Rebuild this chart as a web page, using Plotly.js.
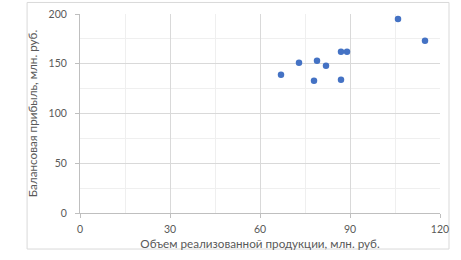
<!DOCTYPE html>
<html><head><meta charset="utf-8">
<script src="https://cdn.plot.ly/plotly-3.0.1.min.js"></script>
<style>body{margin:0;padding:0;background:#fff}#chart{width:461px;height:260px}</style>
</head><body><div id="chart"></div>
<script>
const volume = [67, 73, 78, 79, 82, 87, 89, 87, 106, 115];
const profit = [139, 151, 133, 153, 148, 162, 162, 134, 195, 173];
const xTitle = "Объем реализованной продукции, млн. руб.";
const yTitle = "Балансовая прибыль, млн. руб.";

const font = {family: "Lato, 'Open Sans', sans-serif", size: 10.5, color: "#595959"};
const titleFont = {family: font.family, size: 11.7, color: "#595959"};
const trace = {
  x: volume, y: profit, type: "scatter", mode: "markers",
  marker: {color: "#4472C4", size: 6.5}, hoverinfo: "x+y"
};
const layout = {
  width: 461, height: 260,
  margin: {l: 80, r: 21, t: 14, b: 47},
  paper_bgcolor: "#fff", plot_bgcolor: "#fff",
  showlegend: false, font: font,
  xaxis: {
    range: [0, 120], dtick: 30, tick0: 0, showgrid: true, gridcolor: "#d9d9d9", gridwidth: 1,
    minor: {dtick: 15, showgrid: true, gridcolor: "#efefef", gridwidth: 1},
    zeroline: false, showline: true, linecolor: "#bfbfbf", linewidth: 1,
    ticks: "outside", ticklen: 4, tickcolor: "#bfbfbf", ticklabelstandoff: 2,
    tickfont: font, fixedrange: true,
    title: {text: xTitle, font: titleFont, standoff: 6}
  },
  yaxis: {
    range: [0, 200], dtick: 50, tick0: 0, showgrid: true, gridcolor: "#d9d9d9", gridwidth: 1,
    minor: {dtick: 25, showgrid: true, gridcolor: "#efefef", gridwidth: 1},
    zeroline: false, showline: true, linecolor: "#bfbfbf", linewidth: 1,
    ticks: "outside", ticklen: 4, tickcolor: "#bfbfbf", ticklabelstandoff: 6,
    tickfont: font, fixedrange: true,
    title: {text: yTitle, font: titleFont, standoff: 8}
  },
  shapes: [{
    type: "rect", xref: "paper", yref: "paper",
    x0: -0.147, x1: 1.025, y0: -0.181, y1: 1.058,
    line: {color: "#d9d9d9", width: 1}, fillcolor: "rgba(0,0,0,0)", layer: "below"
  }]
};
Plotly.newPlot("chart", [trace], layout, {displayModeBar: false, staticPlot: true});
</script></body></html>
